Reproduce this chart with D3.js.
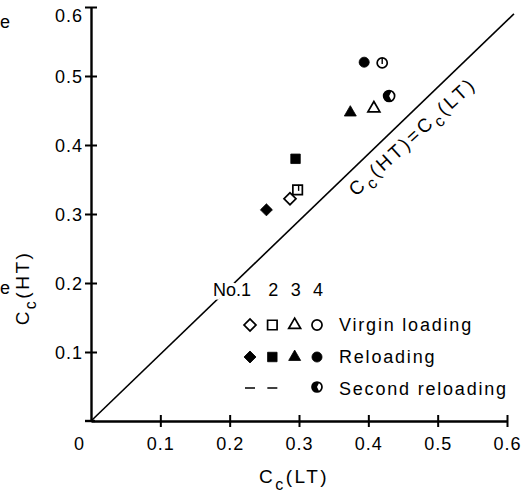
<!DOCTYPE html>
<html><head><meta charset="utf-8">
<script src="https://cdn.jsdelivr.net/npm/d3@7"></script>
<style>
html,body{margin:0;padding:0;background:#fff;}
svg{display:block;}
text{font-family:"Liberation Sans",Arial,sans-serif;fill:#000;}
</style></head>
<body>
<script>
// ---- data ----
const xTicks = [0.1, 0.2, 0.3, 0.4, 0.5, 0.6];
const yTicks = [0.1, 0.2, 0.3, 0.4, 0.5, 0.6];
const specimenNos = ["1", "2", "3", "4"];
const shapes = ["diamond", "square", "triangle", "circle"];
const virginX = [0.287, 0.298, 0.408, 0.420];
const virginY = [0.322, 0.335, 0.453, 0.519];
const reloadX = [0.253, 0.295, 0.374, 0.394];
const reloadY = [0.306, 0.380, 0.447, 0.520];
const secondNos = ["4"];
const secondX = [0.430];
const secondY = [0.471];
const diagonalX = [0, 0.61];
const diagonalY = [0, 0.59];
const legendLabels = ["Virgin loading", "Reloading", "Second reloading"];

// ---- layout ----
const W = 523, H = 492;
const svg = d3.select("body").append("svg").attr("width", W).attr("height", H);
const x = d3.scaleLinear().domain([0, 0.6]).range([91, 507]);
const y = d3.scaleLinear().domain([0, 0.6]).range([421, 7]);

// diagonal line
svg.append("line")
  .attr("x1", x(diagonalX[0])).attr("y1", y(diagonalY[0]))
  .attr("x2", x(diagonalX[1])).attr("y2", y(diagonalY[1]))
  .attr("stroke", "#000").attr("stroke-width", 1.6);

// axes
const xAxis = svg.append("g").attr("transform", `translate(0,${y(0)})`)
  .call(d3.axisBottom(x).tickValues(xTicks).tickSize(0).tickFormat(d3.format(".1f")).tickSizeOuter(0));
const yAxis = svg.append("g").attr("transform", `translate(${x(0)},0)`)
  .call(d3.axisLeft(y).tickValues(yTicks).tickSize(0).tickFormat(d3.format(".1f")).tickSizeOuter(0));
[xAxis, yAxis].forEach(g => {
  g.select(".domain").attr("stroke", "#000").attr("stroke-width", 2.4);
  g.selectAll("text").attr("font-size", 18).attr("letter-spacing", 1)
    .attr("font-family", "Liberation Sans, Arial, sans-serif").attr("fill", "#000");
});
xAxis.selectAll(".tick line").remove();
yAxis.selectAll(".tick line").remove();
xAxis.selectAll(".tick").append("line").attr("y1", -6).attr("y2", 6).attr("stroke", "#000").attr("stroke-width", 2);
yAxis.selectAll(".tick").append("line").attr("x1", -6).attr("x2", 6).attr("stroke", "#000").attr("stroke-width", 2);
xAxis.selectAll(".tick text").attr("y", 16).attr("dy", "0.71em");
yAxis.selectAll(".tick text").attr("x", -8).attr("dy", "0.35em");
yAxis.selectAll(".tick text").filter(d => d === 0.6).attr("dy", "0.8em");
// origin tick marks & label
svg.append("line").attr("x1", x(0) - 6).attr("x2", x(0) + 4).attr("y1", y(0)).attr("y2", y(0)).attr("stroke", "#000").attr("stroke-width", 2.4);
svg.append("text").attr("x", x(0) - 12).attr("y", y(0) + 29).attr("text-anchor", "middle").attr("font-size", 18).text("0");

// axis titles
const xt = svg.append("text").attr("x", 294).attr("y", 483).attr("text-anchor", "middle").attr("font-size", 19).attr("letter-spacing", 2.5);
xt.append("tspan").text("C");
xt.append("tspan").attr("dy", 7).attr("font-size", 16).text("c");
xt.append("tspan").attr("dy", -7).text("(LT)");

const yt = svg.append("text").attr("transform", "translate(29,288) rotate(-90)").attr("text-anchor", "middle").attr("font-size", 19).attr("letter-spacing", 2.5);
yt.append("tspan").text("C");
yt.append("tspan").attr("dy", 7).attr("font-size", 16).text("c");
yt.append("tspan").attr("dy", -7).text("(HT)");

// diagonal label
const dl = svg.append("text").attr("transform", "translate(356,197) rotate(-42.5)").attr("font-size", 19).attr("letter-spacing", 3);
dl.append("tspan").text("C");
dl.append("tspan").attr("dy", 6).attr("font-size", 16).text("c");
dl.append("tspan").attr("dy", -6).text("(HT)=C");
dl.append("tspan").attr("dy", 6).attr("font-size", 16).text("c");
dl.append("tspan").attr("dy", -6).text("(LT)");

// stray edge letters from the scan
svg.append("text").attr("x", 0).attr("y", 28).attr("font-size", 18).text("e");
svg.append("text").attr("x", 0).attr("y", 294).attr("font-size", 18).text("e");

// ---- markers ----
function symPath(shape) {
  if (shape === "diamond") return d3.symbol(d3.symbolSquare, 72)();
  if (shape === "square") return d3.symbol(d3.symbolSquare, 90)();
  if (shape === "triangle") return d3.symbol(d3.symbolTriangle, 62)();
  return d3.symbol(d3.symbolCircle, 80)();
}
function drawMarker(g, shape, cx, cy, filled) {
  const rot = shape === "diamond" ? " rotate(45)" : "";
  g.append("path").attr("d", symPath(shape))
    .attr("transform", `translate(${cx},${cy})${rot}`)
    .attr("fill", filled ? "#000" : "#fff")
    .attr("stroke", "#000").attr("stroke-width", filled ? 0.8 : 1.7);
}
function drawHalf(g, cx, cy, r) {
  g.append("circle").attr("cx", cx).attr("cy", cy).attr("r", r).attr("fill", "#fff").attr("stroke", "#000").attr("stroke-width", 1.7);
  const arc = d3.arc().innerRadius(0).outerRadius(r).startAngle(Math.PI * 0.85).endAngle(Math.PI * 2.15);
  g.append("path").attr("d", arc()).attr("transform", `translate(${cx},${cy})`).attr("fill", "#000");
}

const pts = svg.append("g");
virginX.forEach((v, i) => drawMarker(pts, shapes[i], x(v), y(virginY[i]), false));
reloadX.forEach((v, i) => drawMarker(pts, shapes[i], x(v), y(reloadY[i]), true));
secondX.forEach((v, i) => drawHalf(pts, x(v), y(secondY[i]), 5.5));
// inner marks seen on open circle and square
pts.append("line").attr("x1", x(virginX[3])).attr("x2", x(virginX[3]))
  .attr("y1", y(virginY[3]) - 5).attr("y2", y(virginY[3]) + 1).attr("stroke", "#000").attr("stroke-width", 1.4);
pts.append("line").attr("x1", x(virginX[1]) + 1).attr("x2", x(virginX[1]) + 1)
  .attr("y1", y(virginY[1]) - 5).attr("y2", y(virginY[1]) + 1).attr("stroke", "#000").attr("stroke-width", 1.4);

// ---- legend ----
const lx = d3.scalePoint().domain(specimenNos).range([250, 317]);
const ly = d3.scalePoint().domain(legendLabels).range([325, 389]);
const leg = svg.append("g");
leg.append("text").attr("x", 213).attr("y", 296).attr("font-size", 18)
  .attr("stroke", "#fff").attr("stroke-width", 7).attr("paint-order", "stroke").text("No.1");
specimenNos.slice(1).forEach(n => {
  leg.append("text").attr("x", lx(n) + 1).attr("y", 296).attr("text-anchor", "middle").attr("font-size", 18).text(n);
});
specimenNos.forEach((n, i) => {
  drawMarker(leg, shapes[i], lx(n), ly(legendLabels[0]), false);
  drawMarker(leg, shapes[i], lx(n), ly(legendLabels[1]), true);
});
["1", "2"].forEach(n => {
  leg.append("line").attr("x1", lx(n) - 5).attr("x2", lx(n) + 5)
    .attr("y1", ly(legendLabels[2]) - 1).attr("y2", ly(legendLabels[2]) - 1)
    .attr("stroke", "#000").attr("stroke-width", 1.5);
});
secondNos.forEach(n => drawHalf(leg, lx(n), ly(legendLabels[2]) - 2, 5));
legendLabels.forEach(l => {
  leg.append("text").attr("x", 339).attr("y", ly(l) + 6).attr("font-size", 18).attr("letter-spacing", 1.8).text(l);
});
</script>
</body></html>
